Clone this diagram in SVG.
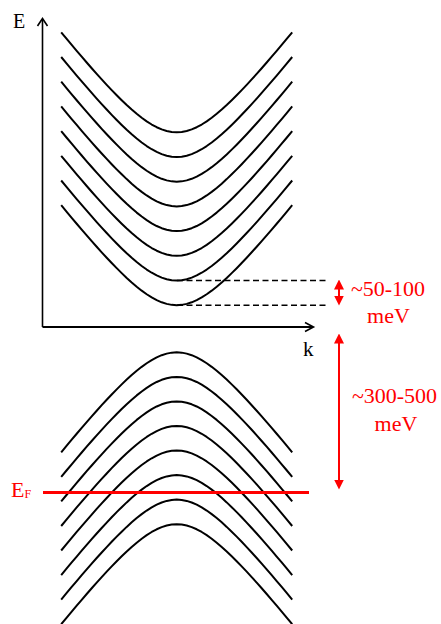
<svg xmlns="http://www.w3.org/2000/svg" width="441" height="624" viewBox="0 0 441 624">
<style>
.band{fill:none;stroke:#000;stroke-width:2;stroke-linejoin:round}
.axis{fill:none;stroke:#000;stroke-width:1.6}
.dash{fill:none;stroke:#000;stroke-width:1.6;stroke-dasharray:6 3.5}
.red{fill:none;stroke:#ff0000;stroke-width:2}
.lbl{font-family:"Liberation Serif","Times New Roman",serif;fill:#000}
.rlbl{font-family:"Liberation Serif","Times New Roman",serif;fill:#ff0000;font-size:22px;text-anchor:middle}
</style>
<defs>
<path id="cb" d="M-115.5,-100 L-110,-93.35 L-105,-87.38 L-100,-81.45 L-95,-75.59 L-90,-69.8 L-85,-64.07 L-80,-58.43 L-75,-52.9 L-70,-47.48 L-65,-42.18 L-60,-37.03 L-55,-32.07 L-50,-27.29 L-45,-22.76 L-40,-18.49 L-35,-14.54 L-30,-10.95 L-25,-7.78 L-20,-5.07 L-15,-2.9 L-10,-1.31 L-5,-0.33 L0,0 L5,-0.33 L10,-1.31 L15,-2.9 L20,-5.07 L25,-7.78 L30,-10.95 L35,-14.54 L40,-18.49 L45,-22.76 L50,-27.29 L55,-32.07 L60,-37.03 L65,-42.18 L70,-47.48 L75,-52.9 L80,-58.43 L85,-64.07 L90,-69.8 L95,-75.59 L100,-81.45 L105,-87.38 L110,-93.35 L115.5,-100"/>
<marker id="ah" viewBox="0 0 10 10" refX="0.5" refY="5" markerWidth="10" markerHeight="10" markerUnits="userSpaceOnUse" orient="auto-start-reverse">
<path d="M0,0 L10,5 L0,10 z" fill="#ff0000"/>
</marker>
</defs>
<g id="axes">
<line class="axis" x1="42.5" y1="327" x2="42.5" y2="19"/>
<polyline class="axis" points="37.5,26 42.5,18.5 47.5,26"/>
<line class="axis" x1="42.5" y1="327" x2="313" y2="327" style="stroke-width:2"/>
<polyline class="axis" points="305,322.5 313.5,327 305,331.5"/>
<text class="lbl" x="13" y="28" font-size="20">E</text>
<text class="lbl" x="303" y="356" font-size="21">k</text>
</g>
<g id="conduction-bands">
<use href="#cb" class="band" transform="translate(176.7,132.3)"/>
<use href="#cb" class="band" transform="translate(176.7,157)"/>
<use href="#cb" class="band" transform="translate(176.7,181.7)"/>
<use href="#cb" class="band" transform="translate(176.7,206.4)"/>
<use href="#cb" class="band" transform="translate(176.7,231.1)"/>
<use href="#cb" class="band" transform="translate(176.7,255.8)"/>
<use href="#cb" class="band" transform="translate(176.7,280.5)"/>
<use href="#cb" class="band" transform="translate(176.7,305.2)"/>
</g>
<g id="valence-bands">
<use href="#cb" class="band" transform="translate(176.7,352.3) scale(1,-1)"/>
<use href="#cb" class="band" transform="translate(176.7,376.9) scale(1,-1)"/>
<use href="#cb" class="band" transform="translate(176.7,401.4) scale(1,-1)"/>
<use href="#cb" class="band" transform="translate(176.7,426) scale(1,-1)"/>
<use href="#cb" class="band" transform="translate(176.7,450.5) scale(1,-1)"/>
<use href="#cb" class="band" transform="translate(176.7,475.1) scale(1,-1)"/>
<use href="#cb" class="band" transform="translate(176.7,499.6) scale(1,-1)"/>
<use href="#cb" class="band" transform="translate(176.7,524.2) scale(1,-1)"/>
</g>
<g id="connectors">
<line class="dash" x1="177" y1="280.5" x2="327" y2="280.5"/>
<line class="dash" x1="177" y1="305.2" x2="327" y2="305.2"/>
<line class="red" x1="339" y1="289" x2="339" y2="296" marker-start="url(#ah)" marker-end="url(#ah)"/>
<line class="red" x1="339" y1="343" x2="339" y2="480" marker-start="url(#ah)" marker-end="url(#ah)"/>
</g>
<g id="fermi-level">
<line x1="43" y1="492.5" x2="309" y2="492.5" stroke="#ff0000" stroke-width="3"/>
<text x="11" y="497" font-family="'Liberation Serif','Times New Roman',serif" font-size="22" fill="#ff0000">E<tspan font-size="12" dy="1">F</tspan></text>
</g>
<g id="gap-labels">
<text class="rlbl" x="388" y="296">~50-100</text>
<text class="rlbl" x="388.5" y="323">meV</text>
<text class="rlbl" x="394.5" y="403">~300-500</text>
<text class="rlbl" x="396" y="431">meV</text>
</g>
</svg>
